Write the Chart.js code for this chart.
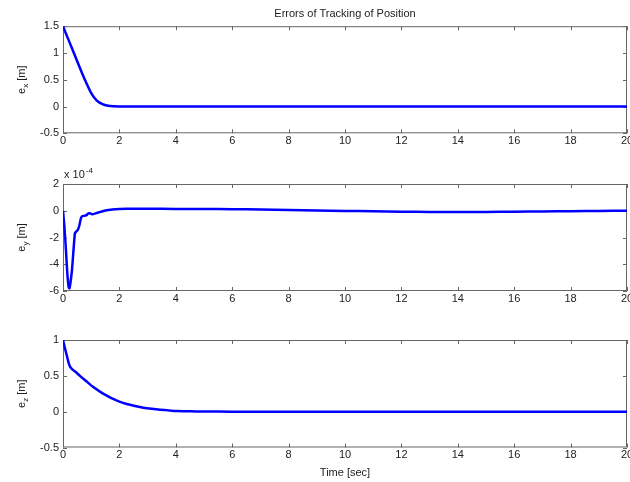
<!DOCTYPE html>
<html>
<head>
<meta charset="utf-8">
<script src="https://cdn.jsdelivr.net/npm/chart.js@4.4.1/dist/chart.umd.min.js"></script>
<style>
  html, body { margin: 0; padding: 0; background: #fff; overflow: hidden; }
  #wrap { position: relative; width: 630px; height: 482px; }
  canvas { position: absolute; left: 0; }
</style>
</head>
<body>
<div id="wrap">
  <canvas id="cx" width="630" height="150" style="top:0px"></canvas>
  <canvas id="cy" width="630" height="160" style="top:150px"></canvas>
  <canvas id="cz" width="630" height="162" style="top:320px"></canvas>
</div>
<script>
// e_x [m]
const tX = [0, 0.2, 0.4, 0.6, 0.8, 1.0, 1.2, 1.4, 1.6, 1.8, 2.0, 2.5, 5, 10, 15, 20];
const eX = [1.5, 1.24, 0.98, 0.72, 0.47, 0.25, 0.11, 0.045, 0.015, 0.004, 0.001, 0, 0, 0, 0, 0];

// e_y [m], values in units of 1e-4
const tY = [0, 0.05, 0.1, 0.15, 0.2, 0.23, 0.27, 0.32, 0.37, 0.42, 0.45, 0.52, 0.58, 0.63, 0.68, 0.75,
  0.82, 0.9, 0.97, 1.05, 1.15, 1.3, 1.5, 1.75, 2.0, 2.5, 3, 4, 5, 6, 7, 8, 9, 10, 11, 12, 13, 14,
  15, 16, 17, 18, 19, 20];
const eY = [0, -1.2, -2.8, -4.6, -5.7, -5.8, -5.3, -4.4, -3.0, -1.7, -1.6, -1.45, -1.1, -0.6, -0.4, -0.38,
  -0.35, -0.2, -0.2, -0.27, -0.2, -0.1, 0.02, 0.1, 0.13, 0.15, 0.15, 0.14, 0.13, 0.12, 0.09, 0.05, 0.02, -0.01,
  -0.04, -0.07, -0.09, -0.1, -0.09, -0.07, -0.05, -0.03, -0.01, 0];

// e_z [m]
const tZ = [0, 0.06, 0.13, 0.2, 0.25, 0.33, 0.43, 0.6, 0.84, 1.05, 1.31, 1.55, 1.78, 2.0, 2.26, 2.55, 2.85,
  3.15, 3.44, 3.75, 4.03, 4.5, 5, 6, 10, 15, 20];
const eZ = [1.0, 0.9, 0.79, 0.68, 0.63, 0.59, 0.56, 0.5, 0.42, 0.35, 0.28, 0.225, 0.177, 0.14, 0.107, 0.08, 0.056,
  0.04, 0.028, 0.018, 0.01, 0.005, 0.002, 0, 0, 0, 0];

const xTicks = [0, 2, 4, 6, 8, 10, 12, 14, 16, 18, 20];
const FONT = 'Liberation Sans, Arial, sans-serif';
const TEXT = '#222';
const BOX = '#666';

function pts(t, v) { return t.map((x, i) => ({ x: x, y: v[i] })); }

const framePlugin = {
  id: 'frame',
  beforeDatasetsDraw(chart) {
    const { ctx, chartArea: a, scales } = chart;
    ctx.save();
    ctx.strokeStyle = BOX;
    ctx.lineWidth = 1;
    ctx.strokeRect(a.left + 0.5, a.top + 0.5, a.right - a.left - 1, a.bottom - a.top - 1);
    ctx.beginPath();
    scales.x.ticks.forEach(t => {
      const p = Math.round(scales.x.getPixelForValue(t.value)) + 0.5;
      ctx.moveTo(p, a.top); ctx.lineTo(p, a.top + 4);
      ctx.moveTo(p, a.bottom); ctx.lineTo(p, a.bottom - 4);
    });
    scales.y.ticks.forEach(t => {
      const p = Math.round(scales.y.getPixelForValue(t.value)) + 0.5;
      ctx.moveTo(a.left, p); ctx.lineTo(a.left + 4, p);
      ctx.moveTo(a.right, p); ctx.lineTo(a.right - 4, p);
    });
    ctx.stroke();
    ctx.restore();
  },
  afterDraw(chart, args, opts) {
    const { ctx, chartArea: a } = chart;
    ctx.save();
    ctx.fillStyle = TEXT;
    // rotated y label with subscript
    if (opts.sub) {
      const cy = (a.top + a.bottom) / 2;
      ctx.translate(opts.lx, cy);
      ctx.rotate(-Math.PI / 2);
      ctx.font = '11px ' + FONT;
      const w1 = ctx.measureText('e').width;
      ctx.font = '8px ' + FONT;
      const w2 = ctx.measureText(opts.sub).width;
      ctx.font = '11px ' + FONT;
      const w3 = ctx.measureText(' [m]').width;
      let x = -(w1 + w2 + w3) / 2;
      ctx.textBaseline = 'alphabetic';
      ctx.fillText('e', x, 4); x += w1;
      ctx.font = '8px ' + FONT;
      ctx.fillText(opts.sub, x, 7); x += w2;
      ctx.font = '11px ' + FONT;
      ctx.fillText(' [m]', x, 4);
      ctx.setTransform(1, 0, 0, 1, 0, 0);
    }
    if (opts.exp) {
      ctx.font = '11px ' + FONT;
      ctx.textBaseline = 'alphabetic';
      const b = a.top - 6;
      ctx.fillText('x 10', a.left + 1, b);
      const w = ctx.measureText('x 10').width;
      ctx.font = '8px ' + FONT;
      ctx.fillText(opts.exp, a.left + 2 + w, b - 5);
    }
    ctx.restore();
  }
};

function makeChart(id, t, v, yMin, yMax, yStep, cfg) {
  return new Chart(document.getElementById(id), {
    type: 'line',
    data: {
      datasets: [{
        data: pts(t, v),
        borderColor: '#0000ff',
        borderWidth: 2.5,
        pointRadius: 0,
        tension: 0.15,
        fill: false
      }]
    },
    plugins: [framePlugin],
    options: {
      responsive: false,
      animation: false,
      events: [],
      layout: { padding: { left: 0, right: 3, top: cfg.padTop, bottom: 0 } },
      plugins: {
        legend: { display: false },
        tooltip: { enabled: false },
        title: cfg.title ? {
          display: true,
          text: cfg.title,
          fullSize: false,
          color: TEXT,
          font: { family: FONT, size: 11, weight: 'normal' },
          padding: { top: 7, bottom: 6 }
        } : { display: false },
        frame: { sub: cfg.sub, lx: 21, exp: cfg.exp }
      },
      scales: {
        x: {
          type: 'linear',
          min: 0, max: 20,
          afterBuildTicks: s => { s.ticks = xTicks.map(v => ({ value: v })); },
          afterFit: s => { s.height = cfg.xh; s.paddingLeft = 0; s.paddingRight = 0; },
          grid: { display: false, drawTicks: false },
          border: { display: false },
          ticks: { color: TEXT, font: { family: FONT, size: 11 }, padding: 1, maxRotation: 0, autoSkip: false },
          title: cfg.xTitle ? {
            display: true, text: cfg.xTitle, color: TEXT,
            font: { family: FONT, size: 11 }, padding: { top: 0, bottom: 2 }
          } : { display: false }
        },
        y: {
          min: yMin, max: yMax,
          ticks: {
            stepSize: yStep, color: TEXT, font: { family: FONT, size: 11 }, padding: 4,
            callback: val => String(+val.toFixed(2))
          },
          afterFit: s => { s.width = 63; s.paddingTop = 0; s.paddingBottom = 0; },
          grid: { display: false, drawTicks: false },
          border: { display: false }
        }
      }
    }
  });
}

makeChart('cx', tX, eX, -0.5, 1.5, 0.5,
  { padTop: 0, xh: 16.7, sub: 'x', title: 'Errors of Tracking of Position' });
makeChart('cy', tY, eY, -6, 2, 2,
  { padTop: 34, xh: 19, sub: 'y', exp: '-4' });
makeChart('cz', tZ, eZ, -0.5, 1, 0.5,
  { padTop: 20, xh: 34.5, sub: 'z', xTitle: 'Time [sec]' });
</script>
</body>
</html>
